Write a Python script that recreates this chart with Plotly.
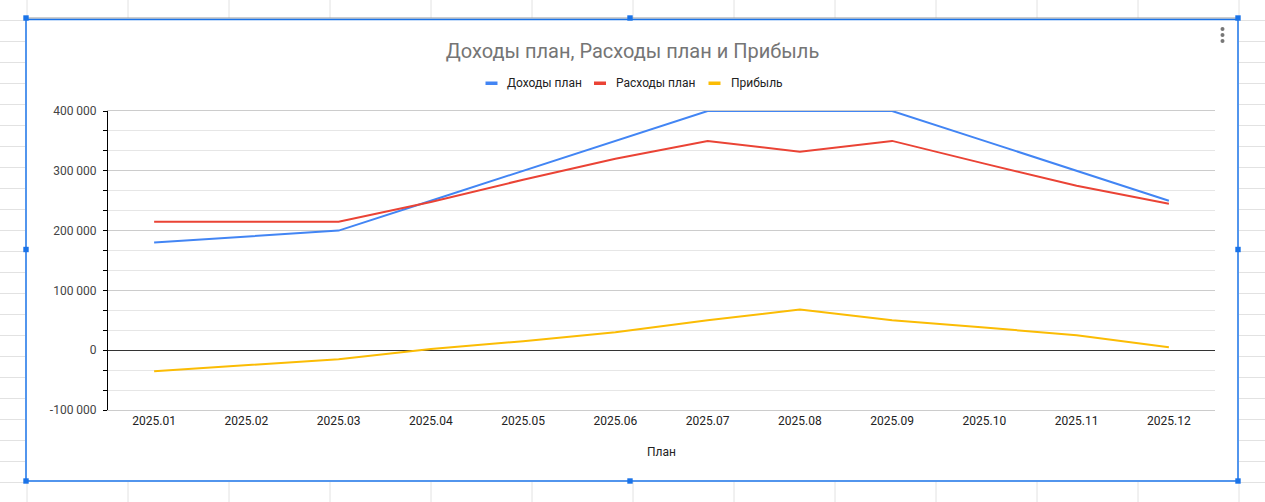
import plotly.graph_objects as go

# ---- data ----
months = ["2025.01", "2025.02", "2025.03", "2025.04", "2025.05", "2025.06",
          "2025.07", "2025.08", "2025.09", "2025.10", "2025.11", "2025.12"]
income_plan = [180000, 190000, 200000, 250000, 300000, 350000,
               400000, 400000, 400000, 350000, 300000, 250000]
expense_plan = [215000, 215000, 215000, 248000, 285000, 320000,
                350000, 332000, 350000, 312000, 275000, 245000]
profit = [-35000, -25000, -15000, 2000, 15000, 30000,
          50000, 68000, 50000, 38000, 25000, 5000]
y_tick_values = [-100000, 0, 100000, 200000, 300000, 400000]
y_tick_labels = ["-100 000", "0", "100 000", "200 000", "300 000", "400 000"]
series_names = ["Доходы план", "Расходы план", "Прибыль"]
series_colors = ["#4285F4", "#EA4335", "#FBBC04"]

# ---- geometry (pixels) ----
W, H = 1265, 502
L, R, T, B = 108, 1215, 111, 410


def px(x):
    return (x - L) / (R - L)


def py(y):
    return (B - y) / (B - T)


fig = go.Figure()
for name, vals, col in zip(series_names, [income_plan, expense_plan, profit], series_colors):
    fig.add_trace(go.Scatter(x=months, y=vals, name=name, mode="lines",
                             line=dict(color=col, width=2), showlegend=False))

shapes = []
annotations = []

# spreadsheet grid outside the chart
grid_col = "#e2e2e2"
for k in range(13):
    x = 27 + 101 * k
    shapes.append(dict(type="line", xref="paper", yref="paper", x0=px(x), x1=px(x),
                       y0=py(0), y1=py(18), line=dict(color=grid_col, width=1), layer="below"))
    shapes.append(dict(type="line", xref="paper", yref="paper", x0=px(x), x1=px(x),
                       y0=py(482), y1=py(502), line=dict(color=grid_col, width=1), layer="below"))
for k in range(23):
    y = 20.5 + 21 * k
    shapes.append(dict(type="line", xref="paper", yref="paper", x0=px(0), x1=px(25),
                       y0=py(y), y1=py(y), line=dict(color=grid_col, width=1), layer="below"))
    shapes.append(dict(type="line", xref="paper", yref="paper", x0=px(1239), x1=px(1265),
                       y0=py(y), y1=py(y), line=dict(color=grid_col, width=1), layer="below"))

# chart border / selection
shapes.append(dict(type="line", xref="paper", yref="paper", x0=px(26), x1=px(1238),
                   y0=py(18), y1=py(18), line=dict(color="#9a9a9a", width=1)))
shapes.append(dict(type="rect", xref="paper", yref="paper", x0=px(26), x1=px(1238),
                   y0=py(19.5), y1=py(481), line=dict(color="#1a73e8", width=1.5)))
for hx, hy in [(26, 18), (630, 18), (1238, 18), (26, 249.5), (1238, 249.5),
               (26, 481), (630, 481), (1238, 481)]:
    shapes.append(dict(type="rect", xref="paper", yref="paper",
                       x0=px(hx - 2.7), x1=px(hx + 2.7), y0=py(hy - 2.7), y1=py(hy + 2.7),
                       fillcolor="#1a73e8", line=dict(width=0)))
# menu dots
for dy in [29, 35, 41]:
    shapes.append(dict(type="circle", xref="paper", yref="paper",
                       x0=px(1220.5), x1=px(1224.5), y0=py(dy - 2), y1=py(dy + 2),
                       fillcolor="#777777", line=dict(width=0)))

# legend (manual, Google-Sheets style)
leg_items = [(485.5, 505), (594, 614), (708.5, 729)]
for (sx, tx), name, col in zip(leg_items, series_names, series_colors):
    shapes.append(dict(type="rect", xref="paper", yref="paper",
                       x0=px(sx), x1=px(sx + 12), y0=py(81.5), y1=py(85),
                       fillcolor=col, line=dict(width=0)))
    annotations.append(dict(text=name, xref="paper", yref="paper", x=px(tx), y=py(83),
                            xanchor="left", yanchor="middle", showarrow=False,
                            font=dict(size=12, color="#222222")))

fig.update_layout(
    width=W, height=H, autosize=False,
    margin=dict(l=L, r=W - R, t=T, b=H - B, pad=0),
    paper_bgcolor="white", plot_bgcolor="white",
    font=dict(family="Roboto, Arial, sans-serif", size=12, color="#222222"),
    title=dict(text="Доходы план, Расходы план и Прибыль", xref="container", x=0.5,
               xanchor="center", yref="container", y=1 - 51 / H, yanchor="middle",
               font=dict(size=20, color="#757575")),
    shapes=shapes, annotations=annotations, showlegend=False,
    xaxis=dict(type="category", categoryorder="array", categoryarray=months,
               range=[-0.5, 11.5], showgrid=False, zeroline=False,
               showline=True, linecolor="#cccccc", linewidth=1, mirror=True,
               ticks="outside", ticklen=0, tickfont=dict(size=12, color="#222222"),
               title=dict(text="План", standoff=20, font=dict(size=12, color="#222222"))),
    yaxis=dict(range=[-100000, 400000], tickmode="array", tickvals=y_tick_values,
               ticktext=y_tick_labels, showgrid=True, gridcolor="#cccccc", gridwidth=1,
               zeroline=True, zerolinecolor="#333333", zerolinewidth=1,
               showline=True, linecolor="black", linewidth=1, ticks="",
               ticklabelstandoff=8,
               tickfont=dict(size=12, color="#444444"),
               minor=dict(tick0=-100000, dtick=100000 / 3, showgrid=True,
                          gridcolor="#e6e6e6", gridwidth=1, ticks="outside",
                          ticklen=4, tickcolor="black", tickwidth=1)),
)

fig.write_html("out.html", config={"displayModeBar": False},
               post_script="document.body.style.margin='0';")
